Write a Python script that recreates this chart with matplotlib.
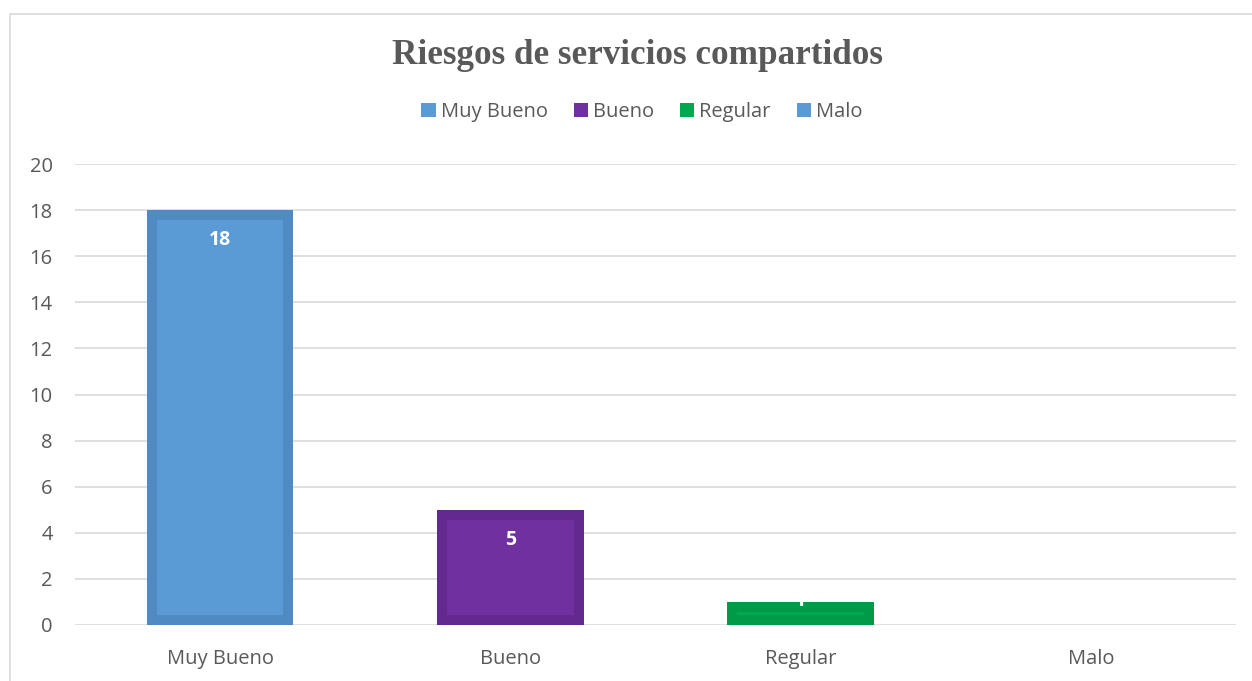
import matplotlib.pyplot as plt
from matplotlib.patches import Rectangle, Patch

# datos del grafico
categorias = ['Muy Bueno', 'Bueno', 'Regular', 'Malo']
valores = [18, 5, 1, 0]
colores = ['#5b9bd5', '#7030a0', '#00a850', '#5b9bd5']
bordes = ['#4f8bc2', '#63298f', '#009a48', '#4f8bc2']
yticks = [0, 2, 4, 6, 8, 10, 12, 14, 16, 18, 20]

W, H = 1252, 681
fig = plt.figure(figsize=(W / 100, H / 100), dpi=100)
plt.rcParams['font.family'] = ['Open Sans', 'DejaVu Sans']

# marco exterior del grafico
fig.patches.append(Rectangle((10 / W, -0.05), 1.2, 1 - 13.5 / H + 0.05,
                             transform=fig.transFigure, fill=False,
                             edgecolor='#d9d9d9', linewidth=1.2))

ax = fig.add_axes([75 / W, 1 - 625 / H, (1236 - 75) / W, (625 - 164) / H])
x = range(len(categorias))
barras = ax.bar(x, valores, width=0.505, color=colores, zorder=3)
for b, c in zip(barras, bordes):
    b.set_edgecolor(c)
    b.set_linewidth(14.4)
    b.set_clip_path(b)

ax.set_xlim(-0.5, len(categorias) - 0.5)
ax.set_ylim(0, 20)
ax.set_yticks(yticks)
ax.set_xticks(list(x))
ax.set_xticklabels(categorias)
ax.tick_params(axis='both', length=0, labelsize=14.5, colors='#595959')
ax.tick_params(axis='y', pad=16)
ax.tick_params(axis='x', pad=17)
ax.grid(axis='y', color='#d9d9d9', linewidth=1.2, zorder=0)
for s in ax.spines.values():
    s.set_visible(False)

# etiquetas de valores
for i, v in enumerate(valores):
    if v > 0:
        ax.text(i, max(v - 1.3, 1.05), str(v), ha='center', va='center',
                color='white', fontsize=14, fontweight='bold', zorder=4)

fig.text(637 / W, 1 - 56 / H, 'Riesgos de servicios compartidos',
         ha='center', va='center', family='Liberation Serif',
         fontweight='bold', fontsize=25.3, color='#595959')

handles = [Patch(facecolor=c, edgecolor='none') for c in colores]
fig.legend(handles, categorias, loc='center', bbox_to_anchor=(642 / W, 1 - 112 / H),
           ncol=4, frameon=False, fontsize=14.5, labelcolor='#595959',
           handlelength=0.7, handleheight=0.7, handletextpad=0.25,
           columnspacing=1.3)

fig.savefig('out.png', dpi=100)
